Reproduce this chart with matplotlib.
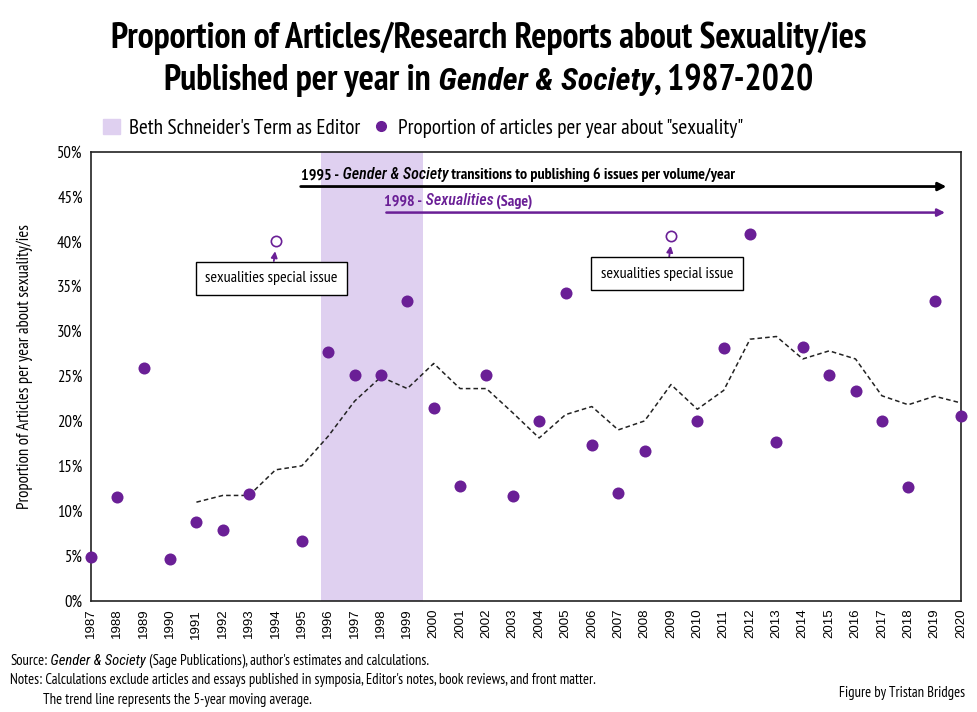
import numpy as np
import matplotlib
matplotlib.use("Agg")
from matplotlib import pyplot as plt
from matplotlib.patches import Patch
from matplotlib.lines import Line2D

FONT = ['PT Sans Narrow', 'DejaVu Sans']
ITAL = ['Roboto Condensed', 'DejaVu Sans']
plt.rcParams['font.family'] = FONT

PURPLE = '#6a1f96'
SHADE = '#dfd0f0'

# data
years = np.arange(1987, 2021)
share = [4.8, 11.5, 25.9, 4.6, 8.7, 7.9, 11.9, np.nan, 6.6, 27.7,
         25.1, 25.1, 33.3, 21.4, 12.8, 25.1, 11.6, 20.0, 34.2, 17.3,
         12.0, 16.7, np.nan, 20.0, 28.1, 40.8, 17.7, 28.2, 25.1, 23.3,
         20.0, 12.6, 33.3, 20.6]
special_years = [1994, 2009]
special_share = [40.0, 40.6]
ma_years = np.arange(1991, 2021)
ma_share = [10.95, 11.7, 11.7, 14.55, 15.0, 18.3, 22.2, 24.9, 23.6, 26.4,
            23.6, 23.6, 20.9, 18.1, 20.7, 21.6, 19.0, 20.0, 24.05, 21.3,
            23.4, 29.1, 29.4, 26.9, 27.8, 26.9, 22.8, 21.8, 22.75, 22.0]
term_start, term_end = 1995.72, 1999.6

fig = plt.figure(figsize=(9.77, 7.12), dpi=100)
ax = fig.add_axes([0.0931, 0.1566, 0.8905, 0.6306])


def runs(x, y, parts, ha='left', size=12, color='black', weight='normal', coords=None,
         ital_weight=None, ital_scale=1.0):
    # draws pieces of text one after another (for mixed italic/normal)
    coords = coords or fig.transFigure
    r = fig.canvas.get_renderer()
    objs = []
    for txt, style in parts:
        fam = ITAL if style == 'italic' else FONT
        w = (ital_weight or weight) if style == 'italic' else weight
        sz = size * ital_scale if style == 'italic' else size
        t = fig.text(0, 0, txt, fontsize=sz, color=color, weight=w,
                     style=style, family=fam, va='baseline', transform=fig.transFigure)
        objs.append(t)
    widths = [o.get_window_extent(r).width for o in objs]
    total = sum(widths)
    px, py = coords.transform((x, y))
    if ha == 'center':
        px -= total / 2
    for o, w in zip(objs, widths):
        o.set_position(fig.transFigure.inverted().transform((px, py)))
        px += w
    return objs


# term shading
ax.axvspan(term_start, term_end, color=SHADE, lw=0, zorder=0)

ax.plot(ma_years, ma_share, ls='--', color='#222222', lw=1.1, dashes=(3, 2), zorder=2)
ax.scatter(years, share, s=75, color=PURPLE, zorder=3, clip_on=False, lw=0)
ax.scatter(special_years, special_share, s=55, facecolor='white',
           edgecolor=PURPLE, lw=1.2, zorder=3)

ax.set_xlim(1987, 2020)
ax.set_ylim(0, 50)
ax.set_xticks(years)
ax.set_xticklabels([str(y) for y in years], rotation=90, fontsize=9.5,
                   family=['Liberation Sans', 'DejaVu Sans'])
ax.set_yticks(range(0, 51, 5))
ax.set_yticklabels(['%d%%' % v for v in range(0, 51, 5)], fontsize=12)
ax.tick_params(length=0, pad=6)
for s in ax.spines.values():
    s.set_color('#222222')
    s.set_linewidth(1.2)
ax.set_ylabel('Proportion of Articles per year about sexuality/ies', fontsize=12)
ax.yaxis.set_label_coords(-0.067, 0.522)

# arrows for the two events
ax.annotate('', xy=(2019.55, 46.1), xytext=(1994.85, 46.1),
            arrowprops=dict(arrowstyle='-|>', color='black', lw=2, mutation_scale=12))
ax.annotate('', xy=(2019.5, 43.2), xytext=(1998.1, 43.2),
            arrowprops=dict(arrowstyle='-|>', color=PURPLE, lw=1.8, mutation_scale=11))
runs(1994.95, 46.9, [('1995 -', 'normal'), (' Gender & Society', 'italic'),
                     (' transitions to publishing 6 issues per volume/year', 'normal')],
     size=11.5, weight='bold', coords=ax.transData, ital_weight='medium')
runs(1998.1, 44.0, [('1998 -', 'normal'), (' Sexualities', 'italic'), (' (Sage)', 'normal')],
     size=11.5, weight='bold', color=PURPLE, coords=ax.transData, ital_weight='medium')

# special issue call-outs
for (yr, val), (bx, by) in zip(zip(special_years, special_share), [(1993.85, 35.9), (2008.85, 36.4)]):
    ax.annotate('sexualities special issue', xy=(yr, val - 0.8), xytext=(bx, by),
                fontsize=11.5, ha='center', va='center',
                bbox=dict(boxstyle='square,pad=0.6', fc='white', ec='black', lw=1),
                arrowprops=dict(arrowstyle='-|>', color=PURPLE, lw=1.3, mutation_scale=9,
                                shrinkA=0, shrinkB=2))

# legend
handles = [Patch(color=SHADE, label="Beth Schneider's Term as Editor"),
           Line2D([], [], ls='', marker='o', color=PURPLE, markersize=7,
                  label='Proportion of articles per year about "sexuality"')]
fig.legend(handles=handles, loc='center left', bbox_to_anchor=(0.097, 0.82), ncol=2,
           frameon=False, fontsize=15.3, handlelength=0.8, handletextpad=0.4,
           columnspacing=0.6, borderaxespad=0)

# title
fig.canvas.draw()
runs(0.5, 1 - 48 / 712, [('Proportion of Articles/Research Reports about Sexuality/ies', 'normal')],
     ha='center', size=25.8, weight='bold')
runs(0.5, 1 - 90 / 712, [('Published per year in', 'normal'), (' Gender & Society', 'italic'),
                         (', 1987-2020', 'normal')], ha='center', size=25.8, weight='bold',
     ital_scale=0.9)

# footer
runs(10 / 977, 1 - 665 / 712, [('Source:', 'normal'), (' Gender & Society', 'italic'),
                               (" (Sage Publications), author's estimates and calculations.", 'normal')],
     size=10.5)
fig.text(10 / 977, 1 - 684 / 712, "Notes: Calculations exclude articles and essays published in symposia, "
         "Editor's notes, book reviews, and front matter.", fontsize=10.5, va='baseline')
fig.text(43 / 977, 1 - 704 / 712, 'The trend line represents the 5-year moving average.',
         fontsize=10.5, va='baseline')
fig.text(965 / 977, 1 - 697 / 712, 'Figure by Tristan Bridges', fontsize=10.5,
         ha='right', va='baseline')

fig.savefig('out.png', dpi=100)
